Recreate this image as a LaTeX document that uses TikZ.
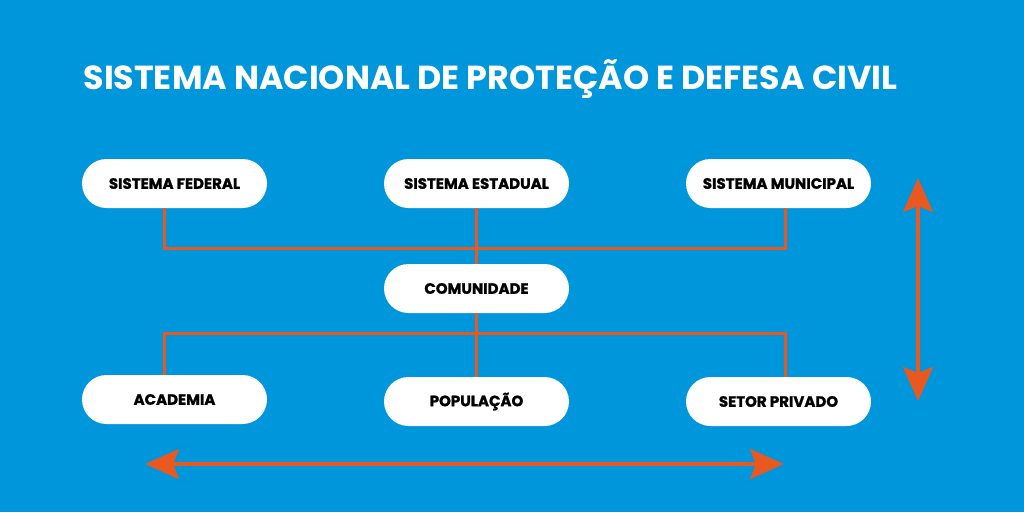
\documentclass[tikz,border=0pt]{standalone}
\usepackage{fontspec}
\setmainfont{Poppins}
\newfontfamily\heavy{Poppins}[UprightFont=* Bold, FakeBold=1.2]
\usetikzlibrary{arrows.meta}
\definecolor{bg}{HTML}{0096DC}
\definecolor{org}{HTML}{E8581F}
\tikzset{
  box/.style={fill=white, rounded corners=24.5pt, minimum width=185pt, minimum height=49pt, inner sep=0pt, font=\heavy\fontsize{15}{17}\selectfont, text=black},
  link/.style={draw=org, line width=3pt},
  dbl/.style={draw=org, line width=4pt, {Stealth[length=34pt,width=30pt,inset=6pt]}-{Stealth[length=34pt,width=30pt,inset=6pt]}}
}
\begin{document}
\begin{tikzpicture}[x=1pt,y=-1pt]
\fill[bg] (0,0) rectangle (1024,512);
\useasboundingbox (0,0) rectangle (1024,512);
\node[anchor=west, text=white, font=\fontsize{33.3}{38}\selectfont\bfseries] (title) at (80,79.5) {SISTEMA NACIONAL DE PROTEÇÃO E DEFESA CIVIL};
\node[box] (fed) at (174.5,183.5) {SISTEMA FEDERAL};
\node[box] (est) at (476.5,183.5) {SISTEMA ESTADUAL};
\node[box] (mun) at (778.5,183.5) {SISTEMA MUNICIPAL};
\node[box] (com) at (476.5,288.5) {COMUNIDADE};
\node[box] (aca) at (174.5,399.5) {ACADEMIA};
\node[box] (pop) at (476.5,401.5) {POPULAÇÃO};
\node[box] (set) at (778.5,401.5) {SETOR PRIVADO};
\coordinate (ul) at (164,248);
\coordinate (ur) at (785,248);
\coordinate (ll) at (164,333);
\coordinate (lr) at (785,333);
\draw[link] (fed.south -| ul) -- (ul) -- (ur) -- (mun.south -| ur);
\draw[link] (est) -- (com);
\draw[link] (com) -- (pop);
\draw[link] (aca.north -| ll) -- (ll) -- (lr) -- (set.north -| lr);
\coordinate (vt) at (918,178);
\coordinate (vb) at (918,401);
\coordinate (hl) at (145,464);
\coordinate (hr) at (784,464);
\draw[dbl] (vt) -- (vb);
\draw[dbl] (hl) -- (hr);
\end{tikzpicture}
\end{document}
